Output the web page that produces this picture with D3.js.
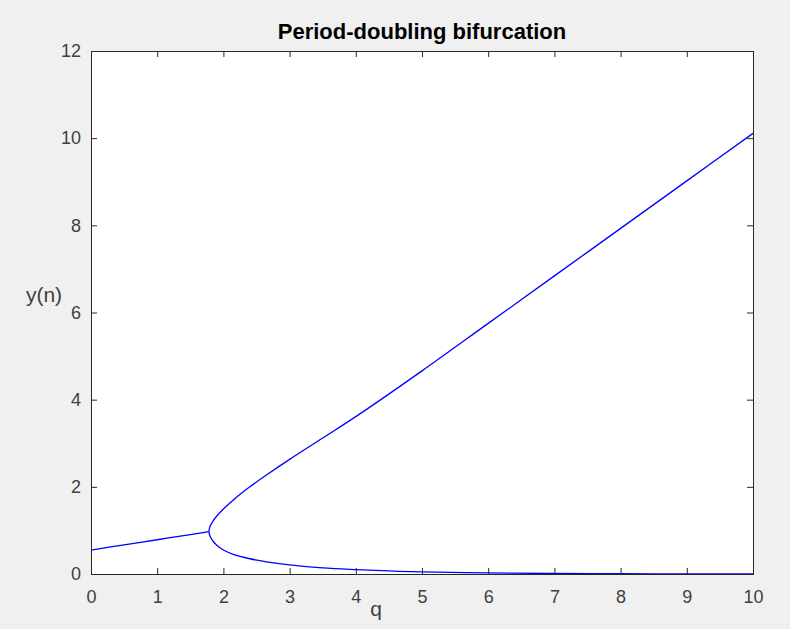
<!DOCTYPE html>
<html>
<head>
<meta charset="utf-8">
<script src="https://cdn.jsdelivr.net/npm/d3@7"></script>
<style>
  html, body { margin: 0; padding: 0; background: #f0f0f0; }
  svg { display: block; }
</style>
</head>
<body>
<script>
// Stable branch before the bifurcation point
const qBefore = [0, 0.5, 1.0, 1.5, 1.78];
const yBefore = [0.55, 0.668, 0.786, 0.904, 0.97];

// Upper branch of the period-2 orbit
const qUpper = [1.78, 1.8, 1.85, 1.9, 2.0, 2.15, 2.4, 2.65, 3.0, 3.5, 4, 5, 6, 7, 8, 9, 10];
const yUpper = [0.97, 1.10, 1.23, 1.33, 1.49, 1.70, 2.0, 2.27, 2.63, 3.12, 3.61, 4.66, 5.75, 6.84, 7.93, 9.02, 10.11];

// Lower branch of the period-2 orbit
const qLower = [1.78, 1.8, 1.85, 1.9, 2.0, 2.15, 2.4, 2.65, 3.0, 3.5, 4, 4.5, 5, 6, 7, 8, 9, 10];
const yLower = [0.97, 0.86, 0.74, 0.66, 0.55, 0.45, 0.35, 0.28, 0.21, 0.14, 0.1, 0.07, 0.05, 0.025, 0.012, 0.006, 0.003, 0.001];

const xTicks = [0, 1, 2, 3, 4, 5, 6, 7, 8, 9, 10];
const yTicks = [0, 2, 4, 6, 8, 10, 12];

const W = 790, H = 629;
const plotLeft = 91, plotRight = 753, plotTop = 51, plotBottom = 574;
const axisColor = "#262626";
const labelColor = "#404040";
const font = "'Liberation Sans', Arial, Helvetica, sans-serif";

const svg = d3.select("body").append("svg")
  .attr("width", W).attr("height", H);

svg.append("rect").attr("width", W).attr("height", H).attr("fill", "#f0f0f0");

const x = d3.scaleLinear().domain([0, 10]).range([plotLeft, plotRight]);
const y = d3.scaleLinear().domain([0, 12]).range([plotBottom, plotTop]);

// Plot area
svg.append("rect")
  .attr("x", plotLeft).attr("y", plotTop)
  .attr("width", plotRight - plotLeft).attr("height", plotBottom - plotTop)
  .attr("fill", "#ffffff");

// Curves
const line = d3.line()
  .x(d => x(d[0])).y(d => y(d[1]))
  .curve(d3.curveCatmullRom.alpha(0.5));

const branches = [
  d3.zip(qBefore, yBefore),
  d3.zip(qUpper, yUpper),
  d3.zip(qLower, yLower)
];

svg.append("g")
  .selectAll("path")
  .data(branches)
  .join("path")
  .attr("d", line)
  .attr("fill", "none")
  .attr("stroke", "#0000ff")
  .attr("stroke-width", 1.3);

// Axes with inward ticks, mirrored on top and right
const tickLen = 6;
const styleAxis = g => {
  g.select(".domain").remove();
  g.selectAll("line").attr("stroke", axisColor).attr("stroke-width", 1);
  g.selectAll("text").attr("fill", labelColor)
    .style("font-family", font).style("font-size", "18px");
};

svg.append("g")
  .attr("transform", `translate(0,${plotBottom})`)
  .call(d3.axisBottom(x).tickValues(xTicks).tickFormat(d3.format("d"))
    .tickSizeInner(-tickLen).tickSizeOuter(0).tickPadding(16))
  .call(styleAxis);

svg.append("g")
  .attr("transform", `translate(0,${plotTop})`)
  .call(d3.axisTop(x).tickValues(xTicks).tickFormat("")
    .tickSizeInner(-tickLen).tickSizeOuter(0))
  .call(styleAxis);

svg.append("g")
  .attr("transform", `translate(${plotLeft},0)`)
  .call(d3.axisLeft(y).tickValues(yTicks).tickFormat(d3.format("d"))
    .tickSizeInner(-tickLen).tickSizeOuter(0).tickPadding(10))
  .call(styleAxis);

svg.append("g")
  .attr("transform", `translate(${plotRight},0)`)
  .call(d3.axisRight(y).tickValues(yTicks).tickFormat("")
    .tickSizeInner(-tickLen).tickSizeOuter(0))
  .call(styleAxis);

// Box outline
svg.append("rect")
  .attr("x", plotLeft).attr("y", plotTop)
  .attr("width", plotRight - plotLeft).attr("height", plotBottom - plotTop)
  .attr("fill", "none")
  .attr("stroke", axisColor)
  .attr("stroke-width", 1)
  .attr("shape-rendering", "crispEdges");

// Title and axis labels
svg.append("text")
  .attr("x", (plotLeft + plotRight) / 2).attr("y", 39)
  .attr("text-anchor", "middle")
  .attr("fill", "#000000")
  .style("font-family", font).style("font-size", "22px").style("font-weight", "bold")
  .text("Period-doubling bifurcation");

svg.append("text")
  .attr("x", 376).attr("y", 616)
  .attr("text-anchor", "middle")
  .attr("fill", labelColor)
  .style("font-family", font).style("font-size", "21px")
  .text("q");

svg.append("text")
  .attr("x", 44).attr("y", 302)
  .attr("text-anchor", "middle")
  .attr("fill", labelColor)
  .style("font-family", font).style("font-size", "21px")
  .text("y(n)");
</script>
</body>
</html>
